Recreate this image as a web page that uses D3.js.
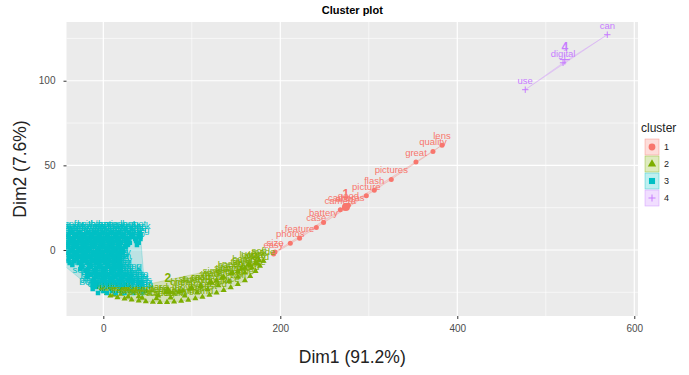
<!DOCTYPE html>
<html>
<head>
<meta charset="utf-8">
<script src="https://cdn.jsdelivr.net/npm/d3@7"></script>
<style>
  body { margin: 0; background: #fff; }
  text { font-family: "Liberation Sans", Arial, sans-serif; }
</style>
</head>
<body>
<svg id="chart" width="689" height="375"></svg>
<script>
// tick labels
var xTicks = [0, 200, 400, 600];
var yTicks = [0, 50, 100];
var xMinor = [100, 300, 500];
var yMinor = [-25, 25, 75, 125];

var clusterNames = ["1", "2", "3", "4"];
var clusterColors = ["#F8766D", "#7CAE00", "#00BFC4", "#C77CFF"];

// [word, Dim1, Dim2]
var cluster1 = [
  ["lens", 382.7, 61.9], ["quality", 372.5, 58.2], ["great", 353.3, 52],
  ["pictures", 325.4, 41.7], ["flash", 306.2, 35.3], ["picture", 297.2, 32.1],
  ["good", 277, 26.5], ["cameras", 274.6, 25.4], ["also", 272.5, 24.8],
  ["camera", 267.8, 23.8], ["battery", 248.9, 16.3], ["case", 240.7, 13.3],
  ["feature", 221.8, 7], ["photos", 211.3, 4], ["size", 194, -1.2], ["easy", 192.4, -2.4]
];

var cluster2 = [
  ["zoom", 8, -27], ["images", 16, -28], ["image", 24, -28.8], ["small", 32, -29.4],
  ["price", 40, -30], ["shots", 48, -30.4], ["lcd", 56, -30.7], ["screen", 64, -30.8],
  ["mode", 72, -30.8], ["light", 80, -30.6], ["buy", 88, -30.2], ["recommend", 96, -29.5],
  ["get", 104, -28.7], ["like", 112, -27.8], ["just", 120, -26.6], ["used", 128, -25.3],
  ["take", 136, -23.8], ["nice", 144, -22.2], ["well", 152, -20.3], ["time", 160, -18],
  ["card", 166, -15.5], ["quite", 172, -12.5], ["lead", 177, -9.5], ["made", 181, -6.5],
  ["pocket", 12, -26.5], ["quick", 28, -27.6], ["sharp", 44, -28.3], ["clear", 60, -28.6],
  ["bright", 76, -28.2], ["movie", 92, -27], ["auto", 106, -25.2], ["night", 118, -23.3],
  ["color", 130, -21], ["setting", 142, -18.5], ["menu", 152, -16], ["shoot", 160, -13.5],
  ["fast", 168, -10.5], ["love", 174, -8],
  ["high", 86, -24.5], ["fine", 98, -23], ["read", 110, -21.5], ["want", 122, -19],
  ["life", 134, -16.5], ["need", 146, -13.5], ["sure", 156, -11], ["long", 164, -8.5], ["work", 172, -7.5],
  ["cheap", 90, -24], ["sturdy", 100, -22.5], ["crisp", 110, -21], ["vivid", 120, -19.5],
  ["simple", 128, -18], ["slow", 136, -16], ["handy", 144, -14], ["tiny", 152, -12.5],
  ["heavy", 160, -10.5], ["loud", 166, -9], ["soft", 176, -6], ["hard", 62, -27],
  ["perfect", 40, -27.5], ["happy", 20, -26], ["poor", 4, -25.5]
];

var cluster3 = [
  ["the", -45, 10.1], ["and", -36, 10.1], ["for", -27, 10.1], ["with", -18, 10.1], ["this", -9, 10.1],
  ["that", 0, 10.1], ["review", 9, 10.1], ["product", 18, 10.1], ["but", 29, 10.1], ["not", 41, 10.1],
  ["tripod", -40, 8.9], ["macro", -31, 8.9], ["panorama", -22, 8.9], ["burst", -13, 8.9], ["timer", -4, 8.9],
  ["remote", 5, 8.9], ["filter", 14, 8.9], ["adapter", 23, 8.9], ["cable", 33, 8.9], ["dock", 42, 8.9],
  ["have", -41, 7.7], ["was", -32, 7.7], ["are", -23, 7.7], ["very", -14, 7.7], ["all", -5, 7.7],
  ["you", 4, 7.7], ["would", 13, 7.7], ["other", 22, 7.7], ["which", 31, 7.7], ["one", 40, 7.7],
  ["cradle", -45, 6.5], ["guide", -36, 6.5], ["instructions", -27, 6.5], ["setup", -18, 6.5], ["install", -9, 6.5],
  ["upload", 0, 6.5], ["download", 9, 6.5], ["transfer", 18, 6.5], ["files", 27, 6.5], ["folder", 36, 6.5], ["jpeg", 42, 6.5],
  ["when", -45, 5.3], ["more", -35, 5.3], ["about", -25, 5.3], ["after", -15, 5.3], ["some", -5, 5.3],
  ["only", 5, 5.3], ["than", 15, 5.3], ["model", 25, 5.3], ["set", 37, 5.3],
  ["format", -40, 4.2], ["raw", -30, 4.2], ["edit", -20, 4.2], ["editing", -10, 4.2], ["crop", 0, 4.2],
  ["red", 10, 4.2], ["eye", 20, 4.2], ["white", 30, 4.2], ["iso", 40, 4.2],
  ["button", -43, 3], ["buttons", -33, 3], ["memory", -23, 3], ["card", -13, 3], ["cards", -3, 3],
  ["batteries", 7, 3], ["charger", 17, 3], ["screen", 27, 3], ["lcd", 38, 3],
  ["balance", -40, 1.8], ["exposure", -30, 1.8], ["aperture", -20, 1.8], ["noise", -10, 1.8],
  ["grain", 0, 1.8], ["blur", 10, 1.8], ["blurry", 19, 1.8], ["tap", 25, 1.8],
  ["viewfinder", -45, 0.6], ["optical", -35, 0.6], ["manual", -25, 0.6], ["auto", -15, 0.6],
  ["focus", -5, 0.6], ["indoor", 5, 0.6], ["outdoor", 14, 0.6], ["low", 22, 0.6],
  ["stabilizer", -45, -0.6], ["shake", -37, -0.6], ["steady", -27, -0.6], ["angle", -17, -0.6],
  ["wide", -7, -0.6], ["telephoto", 3, -0.6], ["close", 12, -0.6], ["dim", 20, -0.6],
  ["colors", -42, -1.8], ["night", -32, -1.8], ["shutter", -22, -1.8], ["speed", -12, -1.8],
  ["delay", -2, -1.8], ["video", 8, -1.8], ["sound", 16, -1.8], ["usb", 22, -1.8],
  ["distance", -40, -3], ["range", -30, -3], ["sunlight", -20, -3], ["shade", -10, -3],
  ["dark", 0, -3], ["indoors", 10, -3], ["fun", 18, -3],
  ["software", -45, -4.1], ["computer", -35, -4.1], ["print", -25, -4.1], ["prints", -15, -4.1],
  ["printing", -5, -4.1], ["resolution", 5, -4.1], ["pixel", 13, -4.1], ["kit", 19, -4.1],
  ["outdoors", -40, -5.3], ["family", -30, -5.3], ["kids", -20, -5.3], ["vacation", -8, -5.3],
  ["trip", 2, -5.3], ["travel", 12, -5.3], ["day", 18, -5.3],
  ["megapixel", -43, -6.5], ["canon", -33, -6.5], ["sony", -23, -6.5], ["nikon", -13, -6.5],
  ["olympus", -3, -6.5], ["kodak", 7, -6.5], ["money", 15, -6.5], ["bag", 19, -6.5],
  ["wedding", -38, -7.7], ["party", -28, -7.7], ["beach", -18, -7.7], ["snow", -8, -7.7],
  ["water", 2, -7.7], ["sports", 12, -7.7], ["pets", 17, -7.7],
  ["worth", -45, -8.9], ["purchase", -35, -8.9], ["bought", -25, -8.9], ["store", -15, -8.9],
  ["online", -5, -8.9], ["amazon", 5, -8.9], ["problem", 12, -8.9], ["own", 19, -8.9],
  ["action", -24, -10], ["friends", -14, -10], ["gift", -4, -10], ["christmas", 6, -10], ["son", 16, -10],
  ["warranty", -26, -11.2], ["issue", -17, -11.2], ["quickly", -8, -11.2], ["easily", 1, -11.2],
  ["really", 10, -11.2], ["pretty", 19, -11.2],
  ["birthday", -20, -12.4], ["husband", -10, -12.4], ["wife", 0, -12.4], ["daughter", 10, -12.4], ["mom", 20, -12.4],
  ["little", -18, -13.6], ["bit", -9, -13.6], ["lot", 0, -13.6], ["first", 9, -13.6], ["new", 19, -13.6],
  ["dad", -14, -14.8], ["friend", -4, -14.8], ["everyone", 6, -14.8], ["anyone", 16, -14.8], ["nothing", 26, -14.8],
  ["old", -18, -16], ["still", -8, -16], ["even", 2, -16], ["much", 12, -16], ["well", 22, -16], ["back", 31, -16],
  ["something", -10, -17.2], ["always", 0, -17.2], ["never", 10, -17.2], ["often", 20, -17.2], ["since", 30, -17.2],
  ["down", -12, -18.3], ["around", -2, -18.3], ["far", 8, -18.3], ["enough", 18, -18.3], ["though", 28, -18.3], ["best", 33, -18.3],
  ["usually", -8, -19.5], ["however", 2, -19.5], ["because", 12, -19.5], ["while", 22, -19.5], ["before", 32, -19.5], ["ago", 42, -19.5],
  ["better", -12, -20.7], ["took", -2, -20.7], ["taking", 8, -20.7], ["shots", 18, -20.7], ["style", 28, -20.7], ["type", 40, -20.7],
  ["during", -8, -21.9], ["within", 2, -21.9], ["without", 12, -21.9], ["between", 22, -21.9], ["through", 32, -21.9], ["yet", 44, -21.9],
  ["plastic", -12, -23.1], ["metal", -2, -23.1], ["grip", 8, -23.1], ["options", 18, -23.1], ["hand", 28, -23.1], ["hands", 40, -23.1],
  ["sometimes", 0, -24.2], ["although", 10, -24.2], ["everything", 20, -24.2], ["anything", 30, -24.2], ["lots", 42, -24.2], ["box", 47, -24.2],
  ["carry", -6, -25.4], ["compact", 4, -25.4], ["weight", 14, -25.4], ["body", 24, -25.4], ["design", 34, -25.4], ["strap", 44, -25.4]
];

var cluster4 = [
  ["can", 569.5, 127.2], ["digital", 519.5, 110.6], ["use", 476.8, 94.7]
];

var centers = [[274.2, 25.4], [73, -24.3], [-4, -3], [521.5, 112.5]];

var clusters = [cluster1, cluster2, cluster3, cluster4];

var svg = d3.select("#chart");
var panel = { left: 66.5, right: 638, top: 22, bottom: 316 };

var x = d3.scaleLinear().domain([-41.6, 604.2]).range([panel.left, panel.right]);
var y = d3.scaleLinear().domain([-39, 134.7]).range([panel.bottom, panel.top]);

svg.append("defs").append("clipPath").attr("id", "clip")
  .append("rect")
  .attr("x", panel.left).attr("y", panel.top)
  .attr("width", panel.right - panel.left).attr("height", panel.bottom - panel.top);

svg.append("rect")
  .attr("x", panel.left).attr("y", panel.top)
  .attr("width", panel.right - panel.left).attr("height", panel.bottom - panel.top)
  .attr("fill", "#ebebeb");

var grid = svg.append("g");
grid.selectAll("line.xmin").data(xMinor).enter().append("line")
  .attr("x1", x).attr("x2", x).attr("y1", panel.top).attr("y2", panel.bottom)
  .attr("stroke", "#fff").attr("stroke-width", 0.6);
grid.selectAll("line.ymin").data(yMinor).enter().append("line")
  .attr("y1", y).attr("y2", y).attr("x1", panel.left).attr("x2", panel.right)
  .attr("stroke", "#fff").attr("stroke-width", 0.6);
grid.selectAll("line.xmaj").data(xTicks).enter().append("line")
  .attr("x1", x).attr("x2", x).attr("y1", panel.top).attr("y2", panel.bottom)
  .attr("stroke", "#fff").attr("stroke-width", 1.2);
grid.selectAll("line.ymaj").data(yTicks).enter().append("line")
  .attr("y1", y).attr("y2", y).attr("x1", panel.left).attr("x2", panel.right)
  .attr("stroke", "#fff").attr("stroke-width", 1.2);

// axes
var xAxis = svg.append("g")
  .attr("transform", "translate(0," + panel.bottom + ")")
  .call(d3.axisBottom(x).tickValues(xTicks).tickSize(3).tickPadding(6));
var yAxis = svg.append("g")
  .attr("transform", "translate(" + panel.left + ",0)")
  .call(d3.axisLeft(y).tickValues(yTicks).tickSize(3).tickPadding(8));
[xAxis, yAxis].forEach(function(a) {
  a.select(".domain").remove();
  a.selectAll(".tick line").attr("stroke", "#333");
  a.selectAll(".tick text").attr("fill", "#4d4d4d").style("font-size", "10px");
});

var plot = svg.append("g").attr("clip-path", "url(#clip)");

function shapePath(k, r) {
  if (k === 0) return d3.symbol(d3.symbolCircle, Math.PI * r * r)();
  if (k === 1) return d3.symbol(d3.symbolTriangle, r * r * 2.6)();
  if (k === 2) return d3.symbol(d3.symbolSquare, r * r * 3.2)();
  return "M" + (-r) + ",0H" + r + "M0," + (-r) + "V" + r;
}

function drawShape(g, k, cx, cy, r) {
  var p = g.append("path")
    .attr("d", shapePath(k, r))
    .attr("transform", "translate(" + cx + "," + cy + ")");
  if (k === 3) p.attr("fill", "none").attr("stroke", clusterColors[k]).attr("stroke-width", 1);
  else p.attr("fill", clusterColors[k]);
}

// convex hulls
clusters.forEach(function(c, k) {
  var pts = c.map(function(d) { return [x(d[1]), y(d[2])]; });
  var hull = d3.polygonHull(pts);
  plot.append("path")
    .attr("d", "M" + hull.join("L") + "Z")
    .attr("fill", clusterColors[k]).attr("fill-opacity", 0.2)
    .attr("stroke", clusterColors[k]).attr("stroke-opacity", 0.4).attr("stroke-width", 0.6);
});

// points
clusters.forEach(function(c, k) {
  var g = plot.append("g");
  c.forEach(function(d) { drawShape(g, k, x(d[1]), y(d[2]), k === 3 ? 3.2 : 2.5); });
});

// labels
clusters.forEach(function(c, k) {
  plot.append("g").selectAll("text").data(c).enter().append("text")
    .attr("x", function(d) { return x(d[1]); })
    .attr("y", function(d) { return y(d[2]) - 6; })
    .attr("text-anchor", "middle")
    .attr("fill", clusterColors[k])
    .style("font-size", "9.5px")
    .text(function(d) { return d[0]; });
});

// centroids
centers.forEach(function(d, k) {
  drawShape(plot, k, x(d[0]), y(d[1]), k === 3 ? 5 : 4);
  plot.append("text")
    .attr("x", x(d[0])).attr("y", y(d[1]) - 9)
    .attr("text-anchor", "middle")
    .attr("fill", clusterColors[k])
    .style("font-size", "12px").style("font-weight", "bold")
    .text(clusterNames[k]);
});

// titles
svg.append("text").attr("x", (panel.left + panel.right) / 2).attr("y", 14)
  .attr("text-anchor", "middle").style("font-size", "11px").style("font-weight", "bold")
  .text("Cluster plot");
svg.append("text").attr("x", (panel.left + panel.right) / 2).attr("y", 363)
  .attr("text-anchor", "middle").style("font-size", "17.5px").attr("fill", "#222")
  .text("Dim1 (91.2%)");
svg.append("text")
  .attr("transform", "translate(26," + (panel.top + panel.bottom) / 2 + ") rotate(-90)")
  .attr("text-anchor", "middle").style("font-size", "17.5px").attr("fill", "#222")
  .text("Dim2 (7.6%)");

// legend
var leg = svg.append("g").attr("transform", "translate(643,132)");
leg.append("text").attr("x", -2).attr("y", 0).style("font-size", "12px").attr("fill", "#222").text("cluster");
clusterNames.forEach(function(n, k) {
  var row = leg.append("g").attr("transform", "translate(2," + (7 + k * 17) + ")");
  row.append("rect").attr("width", 14).attr("height", 16)
    .attr("fill", clusterColors[k]).attr("fill-opacity", 0.25)
    .attr("stroke", clusterColors[k]).attr("stroke-opacity", 0.6).attr("stroke-width", 0.6);
  drawShape(row, k, 7, 8, k === 3 ? 3.5 : 3.4);
  row.append("text").attr("x", 19).attr("y", 11).style("font-size", "9px").attr("fill", "#222").text(n);
});
</script>
</body>
</html>
